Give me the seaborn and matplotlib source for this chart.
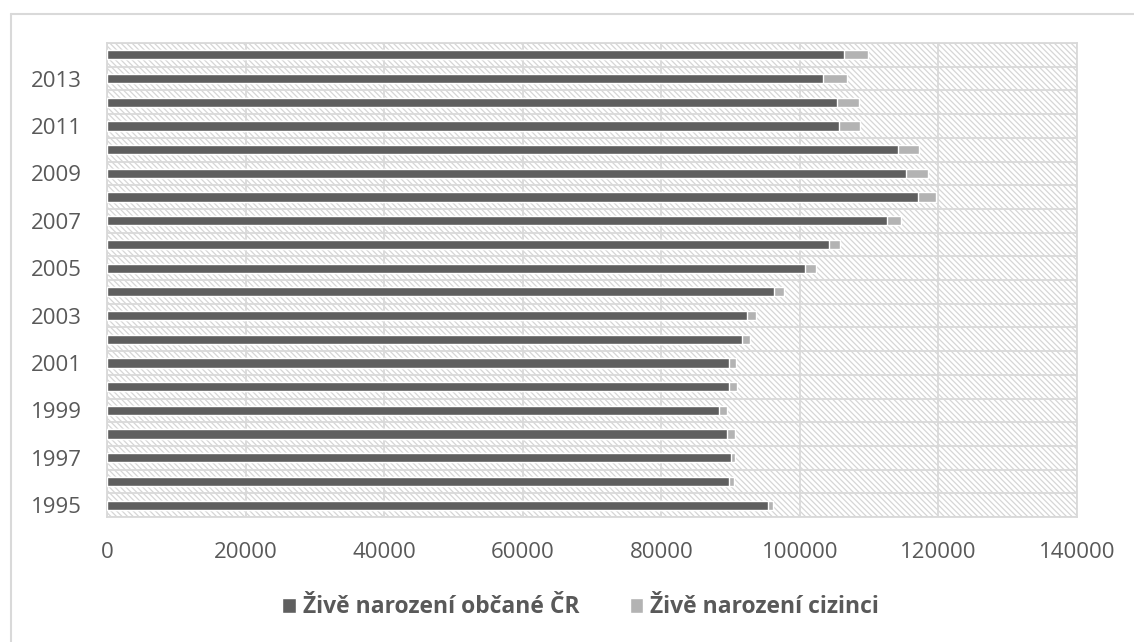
import numpy as np
import pandas as pd
import matplotlib
matplotlib.use("Agg")
import matplotlib.pyplot as plt
from matplotlib.patches import Patch, Rectangle
from matplotlib.lines import Line2D
import seaborn as sns

# data
years = [1995, 1996, 1997, 1998, 1999, 2000, 2001, 2002, 2003, 2004,
         2005, 2006, 2007, 2008, 2009, 2010, 2011, 2012, 2013, 2014]
citizens = [95440, 89840, 89990, 89550, 88400, 89840, 89840, 91630, 92400, 96300,
            100740, 104160, 112540, 116980, 115300, 114140, 105700, 105370, 103400, 106430]
foreigners = [670, 630, 670, 1020, 1110, 1060, 920, 1160, 1300, 1350,
              1540, 1690, 2130, 2600, 3130, 3090, 3040, 3230, 3400, 3470]
labels = ["Živě narození občané ČR", "Živě narození cizinci"]
x_ticks = [0, 20000, 40000, 60000, 80000, 100000, 120000, 140000]

dark = "#5f5f5f"
light = "#b3b3b3"
grid = "#d9d9d9"
text = "#595959"

sns.set_style("white")
plt.rcParams["font.family"] = ["Open Sans", "DejaVu Sans"]
plt.rcParams["hatch.color"] = "#d6d6d6"
plt.rcParams["hatch.linewidth"] = 0.9

df = pd.DataFrame({"year": [str(y) for y in years],
                   "citizens": citizens, "foreigners": foreigners})
df["total"] = df["citizens"] + df["foreigners"]
order = [str(y) for y in years[::-1]]

fig = plt.figure(figsize=(11.34, 6.42), dpi=100)
ax = fig.add_axes([107 / 1134, 1 - 517 / 642, 970 / 1134, 474 / 642])

# hatched plot area
ax.add_patch(Rectangle((0, 0), 1, 1, transform=ax.transAxes, facecolor="white",
                       edgecolor="#d6d6d6", hatch="\\" * 6, linewidth=0, zorder=0))

sns.barplot(data=df, x="total", y="year", order=order, color=light,
            width=0.39, saturation=1, ax=ax, zorder=3)
sns.barplot(data=df, x="citizens", y="year", order=order, color=dark,
            width=0.39, saturation=1, ax=ax, zorder=4)

ax.set_xlim(0, 140000)
ax.set_ylim(len(order) - 0.5, -0.5)
ax.set_xticks(x_ticks)
ax.set_xticklabels([str(v) for v in x_ticks])
shown = [y for y in years if (y - 1995) % 2 == 0]
ax.set_yticks([order.index(str(y)) for y in shown])
ax.set_yticklabels([str(y) for y in shown])
ax.set_yticks(np.arange(-0.5, len(order), 1.0), minor=True)
ax.set_xlabel("")
ax.set_ylabel("")

ax.grid(axis="x", which="major", color=grid, linewidth=1.3, zorder=1)
ax.grid(axis="y", which="minor", color=grid, linewidth=1.3, zorder=1)
ax.grid(axis="y", which="major", visible=False)
ax.set_axisbelow(True)
for s in ax.spines.values():
    s.set_color(grid)
    s.set_linewidth(1.3)

ax.tick_params(axis="both", which="both", length=0, labelsize=16, labelcolor=text)
ax.tick_params(axis="y", pad=18)
ax.tick_params(axis="x", pad=18)

# outer chart border
fig.add_artist(Line2D([11 / 1134, 11 / 1134], [0, 1 - 14 / 642], color=grid, lw=1.5))
fig.add_artist(Line2D([11 / 1134, 1], [1 - 14 / 642, 1 - 14 / 642], color=grid, lw=1.5))

handles = [Patch(facecolor=dark), Patch(facecolor=light)]
leg = fig.legend(handles, labels, loc="center", bbox_to_anchor=(0.512, 0.054),
                 ncol=2, frameon=False, handlelength=0.6, handleheight=0.6,
                 handletextpad=0.3, columnspacing=2.2,
                 prop={"size": 16.5, "weight": "bold"})
for t in leg.get_texts():
    t.set_color(text)

fig.savefig("out.png", dpi=100)
